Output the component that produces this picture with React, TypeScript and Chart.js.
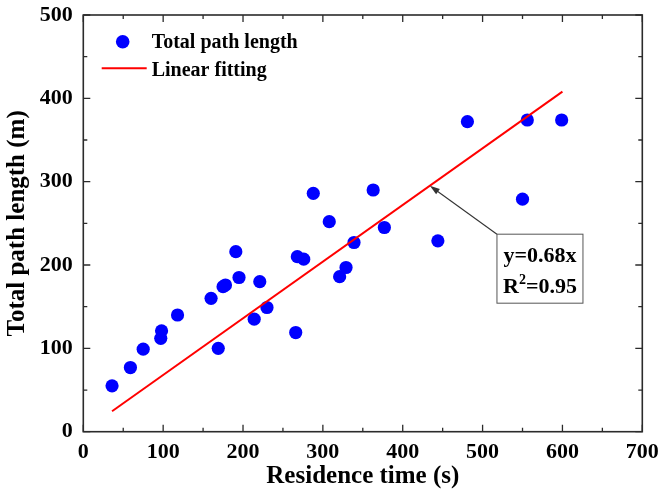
import React, { useEffect, useRef } from 'react';
import { Chart, registerables } from 'chart.js';

Chart.register(...registerables);

// Measured samples: residence time (s) vs. total path length (m)
const residenceTime = [36, 59, 75, 97, 98, 118, 160, 169, 175, 178, 191, 195, 214, 221, 230, 266, 268, 276, 288, 308, 321, 329, 339, 363, 377, 444, 481, 550, 556, 599];
const pathLength = [55, 77, 99, 112, 121, 140, 160, 100, 174, 176, 216, 185, 135, 180, 149, 119, 210, 207, 286, 252, 186, 197, 227, 290, 245, 229, 372, 279, 374, 374];

// Linear fit through the origin
const fitSlope = 0.68;
const fitRange = [36, 600];
const fitEquation = 'y=0.68x';
const fitR2 = '0.95';

// Annotation: arrow tip on the fit line, box anchored by its top-left corner
const arrowTipX = 434;
const boxAnchor = { x: 518, y: 237 };

const xRange = [0, 700];
const yRange = [0, 500];
const majorStep = 100;
const minorStep = 50;

const seriesLabel = 'Total path length';
const fitLabel = 'Linear fitting';
const xTitle = 'Residence time (s)';
const yTitle = 'Total path length (m)';

const SERIF = '"Liberation Serif", "Times New Roman", Times, serif';
const FRAME = '#2b2b2b';

const decorations = {
  id: 'decorations',
  afterDatasetsDraw(chart: any) {
    const { ctx, chartArea } = chart;
    const { left, right, top, bottom } = chartArea;
    const xs = chart.scales.x;
    const ys = chart.scales.y;
    ctx.save();

    // plot frame
    ctx.strokeStyle = FRAME;
    ctx.lineWidth = 1.6;
    ctx.strokeRect(left, top, right - left, bottom - top);

    // inward ticks on all four sides
    ctx.lineWidth = 1.3;
    ctx.beginPath();
    for (const t of xs.ticks) {
      const p = xs.getPixelForValue(t.value);
      const len = t.value % majorStep === 0 ? 7 : 4;
      ctx.moveTo(p, bottom);
      ctx.lineTo(p, bottom - len);
      ctx.moveTo(p, top);
      ctx.lineTo(p, top + len);
    }
    for (const t of ys.ticks) {
      const p = ys.getPixelForValue(t.value);
      const len = t.value % majorStep === 0 ? 7 : 4;
      ctx.moveTo(left, p);
      ctx.lineTo(left + len, p);
      ctx.moveTo(right, p);
      ctx.lineTo(right - len, p);
    }
    ctx.stroke();

    // legend
    const lx = left + 18.4;
    ctx.fillStyle = '#0000ff';
    ctx.beginPath();
    ctx.arc(left + 39.4, top + 26.7, 6.8, 0, Math.PI * 2);
    ctx.fill();
    ctx.strokeStyle = '#ff0000';
    ctx.lineWidth = 2;
    ctx.beginPath();
    ctx.moveTo(lx, top + 53.3);
    ctx.lineTo(lx + 45, top + 53.3);
    ctx.stroke();
    ctx.fillStyle = '#000';
    ctx.font = `bold 20px ${SERIF}`;
    ctx.textAlign = 'left';
    ctx.textBaseline = 'alphabetic';
    ctx.fillText(seriesLabel, left + 68.4, top + 32.6);
    ctx.fillText(fitLabel, left + 68.4, top + 61.2);

    // annotation arrow
    const tipX = xs.getPixelForValue(arrowTipX);
    const tipY = ys.getPixelForValue(fitSlope * arrowTipX);
    const bx = xs.getPixelForValue(boxAnchor.x);
    const by = ys.getPixelForValue(boxAnchor.y);
    const ang = Math.atan2(tipY - by, tipX - bx);
    ctx.strokeStyle = '#333';
    ctx.fillStyle = '#333';
    ctx.lineWidth = 1.1;
    ctx.beginPath();
    ctx.moveTo(bx, by);
    ctx.lineTo(tipX - 8 * Math.cos(ang), tipY - 8 * Math.sin(ang));
    ctx.stroke();
    ctx.beginPath();
    ctx.moveTo(tipX, tipY);
    ctx.lineTo(tipX - 10 * Math.cos(ang) + 3.2 * Math.sin(ang), tipY - 10 * Math.sin(ang) - 3.2 * Math.cos(ang));
    ctx.lineTo(tipX - 10 * Math.cos(ang) - 3.2 * Math.sin(ang), tipY - 10 * Math.sin(ang) + 3.2 * Math.cos(ang));
    ctx.closePath();
    ctx.fill();

    // annotation box
    const bw = 86;
    const bh = 69;
    ctx.fillStyle = '#fff';
    ctx.fillRect(bx, by, bw, bh);
    ctx.strokeStyle = '#555';
    ctx.lineWidth = 1;
    ctx.strokeRect(bx, by, bw, bh);

    ctx.fillStyle = '#000';
    ctx.font = `bold 22px ${SERIF}`;
    const w1 = ctx.measureText(fitEquation).width;
    ctx.fillText(fitEquation, bx + (bw - w1) / 2, by + 27.4);

    const rPart = 'R';
    const ePart = '=' + fitR2;
    const wR = ctx.measureText(rPart).width;
    const wE = ctx.measureText(ePart).width;
    ctx.font = `bold 14px ${SERIF}`;
    const wS = ctx.measureText('2').width;
    const start = bx + (bw - (wR + wS + wE)) / 2;
    const base2 = by + 58.4;
    ctx.font = `bold 22px ${SERIF}`;
    ctx.fillText(rPart, start, base2);
    ctx.font = `bold 14px ${SERIF}`;
    ctx.fillText('2', start + wR, base2 - 9);
    ctx.font = `bold 22px ${SERIF}`;
    ctx.fillText(ePart, start + wR + wS, base2);

    ctx.restore();
  },
};

export default function App() {
  const ref = useRef<HTMLCanvasElement>(null);

  useEffect(() => {
    const canvas = ref.current;
    if (!canvas) return;

    const points = residenceTime.map((x, i) => ({ x, y: pathLength[i] }));
    const fitLine = fitRange.map((x) => ({ x, y: fitSlope * x }));

    const chart = new Chart(canvas, {
      type: 'scatter',
      data: {
        datasets: [
          {
            label: fitLabel,
            data: fitLine,
            showLine: true,
            borderColor: '#ff0000',
            borderWidth: 2,
            pointRadius: 0,
            fill: false,
          } as any,
          {
            label: seriesLabel,
            data: points,
            backgroundColor: '#0000ff',
            borderWidth: 0,
            pointRadius: 6.6,
          },
        ],
      },
      options: {
        animation: false,
        responsive: false,
        devicePixelRatio: 1,
        layout: { padding: { left: 0, top: 15, right: 18.7, bottom: 0 } },
        plugins: {
          legend: { display: false },
          tooltip: { enabled: false },
        },
        scales: {
          x: {
            type: 'linear',
            min: xRange[0],
            max: xRange[1],
            grid: { display: false, drawTicks: false },
            border: { display: false },
            afterFit: (scale: any) => {
              scale.height = 58.3;
              scale.paddingLeft = 0;
              scale.paddingRight = 0;
            },
            ticks: {
              stepSize: minorStep,
              autoSkip: false,
              maxRotation: 0,
              padding: 7,
              color: '#000',
              font: { family: SERIF, size: 22, weight: 'bold' },
              callback: (v: any) => (Number(v) % majorStep === 0 ? String(v) : ''),
            },
            title: {
              display: true,
              text: xTitle,
              color: '#000',
              padding: { top: 0, bottom: 0 },
              font: { family: SERIF, size: 25, weight: 'bold', lineHeight: 1.1 },
            },
          },
          y: {
            type: 'linear',
            min: yRange[0],
            max: yRange[1],
            grid: { display: false, drawTicks: false },
            border: { display: false },
            afterFit: (scale: any) => {
              scale.width = 83.3;
              scale.paddingTop = 0;
              scale.paddingBottom = 0;
            },
            ticks: {
              stepSize: minorStep,
              autoSkip: false,
              padding: 10.5,
              color: '#000',
              font: { family: SERIF, size: 22, weight: 'bold' },
              callback: (v: any) => (Number(v) % majorStep === 0 ? String(v) : ''),
            },
            title: {
              display: true,
              text: yTitle,
              color: '#000',
              padding: { top: 4, bottom: 0 },
              font: { family: SERIF, size: 25, weight: 'bold', lineHeight: 1.1 },
            },
          },
        },
      },
      plugins: [decorations],
    });

    return () => chart.destroy();
  }, []);

  return (
    <div style={{ position: 'absolute', left: 0, top: 0, width: 661, height: 490, background: '#fff' }}>
      <canvas ref={ref} width={661} height={490} style={{ display: 'block' }} />
    </div>
  );
}
